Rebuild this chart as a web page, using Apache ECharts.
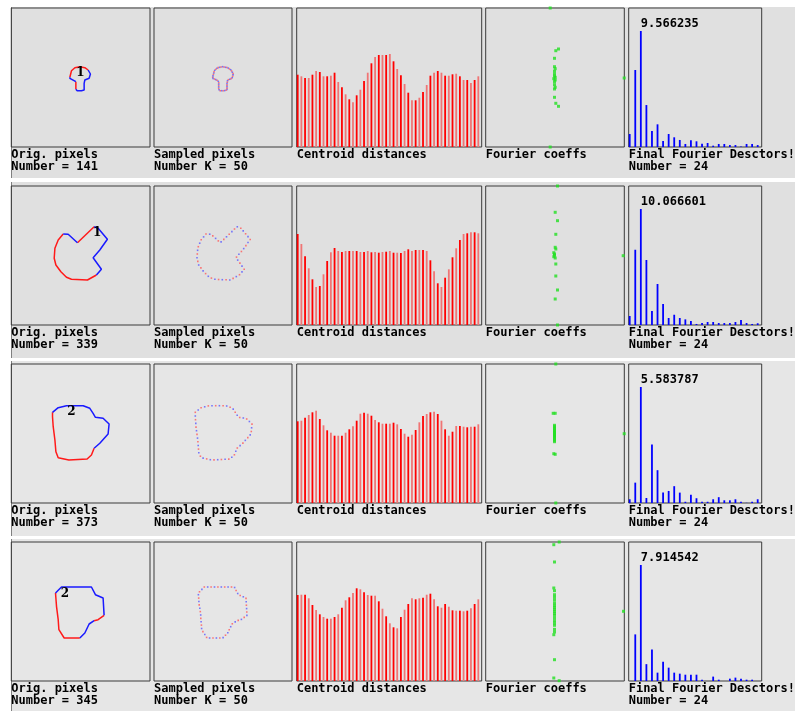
<!DOCTYPE html>
<html><head><meta charset="utf-8">
<script src="https://cdn.jsdelivr.net/npm/echarts/dist/echarts.min.js"></script>
<style>
html,body{margin:0;padding:0;background:#fff;}
#wrap{position:relative;width:795px;height:711px;overflow:hidden;}
.band{position:absolute;left:11px;width:784px;border-left:1px solid #808080;box-sizing:border-box;}
#c{position:absolute;left:0;top:0;width:795px;height:711px;}
</style>
</head><body><div id="wrap">
<div class="band" style="top:7px;height:171px;background:#e0e0e0"></div>
<div class="band" style="top:182px;height:176px;background:#e0e0e0"></div>
<div class="band" style="top:361px;height:175px;background:#e6e6e6"></div>
<div class="band" style="top:539px;height:172px;background:#e6e6e6"></div>
<div id="c"></div></div>
<script>
// ---------------- DATA ----------------
const origCount = [141, 339, 373, 345];
const sampledK = [50, 50, 50, 50];
const finalCount = [24, 24, 24, 24];
const shapeLabel = ['1', '1', '2', '2'];
const shapeLabelXY = [[69.3, 64.7], [86, 46.7], [60.3, 47.7], [53.7, 51.7]];

// contour pixel paths (panel pixel coordinates, y downward)
const contourRed1 = [[[58.7,69.3],[60.3,62.7],[63.7,59.7],[68.7,58.7],[73.7,59.7],[77,62]],[[64.7,81.3],[64.7,73.7]]];
const contourBlue1 = [[[77,62],[79.3,66],[78,70.3],[73.7,72],[73,75.3],[73,82],[70.3,82.7],[66,82.7],[64.7,81.3]],[[64.7,73.7],[62.7,72],[58.7,70.3],[58.7,69.3]]];
const contourRed2 = [[[66.3,56.7],[83,40.7]],[[85.3,89],[76.3,94],[60.3,93.3],[55.3,91.3],[49.7,85.7],[44.7,79],[43,72.3],[43.7,62.3],[47,54],[52,48]]];
const contourBlue2 = [[[52,48],[57,48.3],[66.3,56.7]],[[83,40.7],[87,42.3],[96.3,53.3],[88.7,64],[82,71.7],[90.3,83.3],[85.3,89]]];
const contourRed3 = [[[83,84.3],[80.3,91],[76,95],[57.7,96],[47,93.7],[44.7,87.7],[43.7,76],[42,62.7],[41.3,52.7],[41.3,48.3]]];
const contourBlue3 = [[[41.3,48.3],[47,43.7],[55.3,41.7],[72,41.7],[78.7,44.3],[82,49.3],[84.3,53.3],[92,54.3],[98,60],[97,70],[88.7,79.3],[83,84.3]]];
const contourRed4 = [[[93,73.3],[87,77.7],[83,78.7]],[[68.7,96],[53,96],[47.7,87.7],[47,77.7],[45.3,64.3],[44.3,51]]];
const contourBlue4 = [[[44.3,51],[50.3,45],[80.3,45],[84.3,52.7],[92,56],[93,73.3]],[[83,78.7],[78,82],[73.7,91],[68.7,96]]];

// sampled pixels (K = 50)
const sampled1 = [[58.7,69.3],[59.0,67.9],[59.4,66.4],[59.8,65.0],[60.1,63.6],[60.8,62.3],[61.9,61.3],[63.0,60.3],[64.2,59.6],[65.7,59.3],[67.1,59.0],[68.6,58.7],[70.0,59.0],[71.5,59.3],[72.9,59.5],[74.3,60.1],[75.5,61.0],[76.7,61.8],[77.6,63.0],[78.3,64.3],[79.1,65.6],[79.0,66.9],[78.6,68.4],[78.2,69.8],[77.1,70.6],[75.8,71.2],[74.4,71.7],[73.5,72.7],[73.3,74.2],[73,75.6],[73,77.1],[73,78.6],[73,80.1],[73,81.5],[72.0,82.3],[70.6,82.6],[69.1,82.7],[67.6,82.7],[66.2,82.7],[65.1,81.8],[64.7,80.4],[64.7,78.9],[64.7,77.4],[64.7,76.0],[64.7,74.5],[64.2,73.2],[63.0,72.3],[61.7,71.6],[60.4,71.0],[59.0,70.4]];
const sampled2 = [[52,48],[55.7,48.2],[58.8,49.9],[61.6,52.4],[64.3,54.9],[67.1,55.9],[69.8,53.4],[72.5,50.8],[75.2,48.2],[77.9,45.6],[80.5,43.0],[83.3,40.8],[86.8,42.2],[89.2,44.9],[91.6,47.8],[94.0,50.6],[96.2,53.5],[94.0,56.5],[91.9,59.6],[89.7,62.6],[87.4,65.5],[84.9,68.3],[82.5,71.1],[83.7,74.1],[85.9,77.1],[88.0,80.1],[90.2,83.2],[88.0,85.9],[85.5,88.7],[82.3,90.6],[79.1,92.4],[75.8,94.0],[72.1,93.8],[68.3,93.7],[64.6,93.5],[60.9,93.3],[57.4,92.1],[54.3,90.3],[51.6,87.6],[49.1,84.9],[46.9,81.9],[44.7,79.0],[43.8,75.4],[43.0,71.7],[43.3,68.0],[43.6,64.3],[44.3,60.7],[45.7,57.2],[47.2,53.8],[49.6,50.9]];
const sampled3 = [[41.3,48.3],[44.2,46.0],[47.1,43.7],[50.7,42.8],[54.3,41.9],[58.0,41.7],[61.7,41.7],[65.4,41.7],[69.1,41.7],[72.7,42.0],[76.1,43.3],[79.2,45.1],[81.2,48.2],[83.2,51.3],[85.7,53.5],[89.3,54.0],[92.7,55.0],[95.4,57.5],[98.0,60.1],[97.6,63.8],[97.3,67.5],[96.2,70.9],[93.8,73.6],[91.3,76.4],[88.9,79.1],[86.1,81.6],[83.3,84.0],[81.8,87.3],[80.4,90.8],[77.8,93.3],[74.8,95.1],[71.1,95.3],[67.4,95.5],[63.7,95.7],[60.0,95.9],[56.3,95.7],[52.7,94.9],[49.1,94.1],[46.4,92.2],[44.8,88.8],[44.5,85.1],[44.2,81.5],[43.9,77.8],[43.5,74.1],[43.0,70.4],[42.5,66.7],[42.0,63.1],[41.8,59.4],[41.5,55.7],[41.3,52.0]];
const sampled4 = [[50.3,45],[53.7,45],[57.1,45],[60.5,45],[63.9,45],[67.3,45],[70.7,45],[74.1,45],[77.5,45],[80.6,45.5],[82.1,48.5],[83.7,51.5],[86.2,53.5],[89.3,54.8],[92.0,56.4],[92.2,59.8],[92.4,63.2],[92.6,66.6],[92.8,70.0],[92.9,73.4],[90.2,75.4],[87.4,77.4],[84.2,78.4],[81.2,79.9],[78.3,81.8],[76.7,84.7],[75.2,87.8],[73.8,90.8],[71.5,93.2],[69.1,95.6],[65.8,96],[62.4,96],[59.0,96],[55.6,96],[52.6,95.4],[50.8,92.5],[48.9,89.6],[47.6,86.5],[47.4,83.1],[47.1,79.8],[46.8,76.4],[46.7,73.0],[46.3,69.6],[45.8,66.3],[45.2,62.9],[44.9,59.5],[44.7,56.1],[44.4,52.7],[45.5,49.8],[47.9,47.4]];

// centroid distances (50 samples)
const centroid1 = [72.3,70.7,69,69,72.3,76,75,70.7,70.7,71.3,74.3,65,59.7,52.7,47.7,44.7,51.7,57.3,66,74.3,83.7,90,92,92,92,93,85.7,78,71.7,63,54.3,46.7,46.7,49.3,55,62,71.3,74.3,76,74.3,71.3,71.3,72.7,73.3,70.7,67,67,64,67,70.7];
const centroid2 = [91,81,68.7,56.7,45.7,38,39,50.7,64,72.7,77,74,73,74,74,74,74,73,73,74,72.7,73,72.3,73,73.3,74,72.3,72.3,72,74,75.7,74,75,75,75,74,64.7,53.7,41.7,38,47.3,55.7,67.7,76.7,85,91,91.7,92.7,92.7,91.7];
const centroid3 = [81.7,82.3,85.3,88,90.7,92.3,84,77.7,72.7,70.3,67.3,67.3,67.3,70.3,73.7,76.7,82.3,89.3,90.3,89.3,87.3,83,80.7,79.3,79.3,79.3,80.3,78.7,74,69.3,66.3,68.3,73,80.7,87,89,90.7,91.3,89,82.3,73.7,67.3,71.3,77,77,76.3,75.7,76.3,76.3,78.7];
const centroid4 = [86,86.3,86.3,82.7,76,71,66.7,64,62.3,62.3,64,66.7,73.3,80.7,83.7,88,92.7,91.7,88.7,86,85.3,85.3,79.7,72.3,64.7,57.7,53.7,52.7,64,71.3,77,82.7,81.7,82.7,83.3,86.3,87.3,81.7,74.7,73.3,77,74.3,70.7,70.3,70.3,69.7,70.3,72.7,77,81.7];

// Fourier coefficients (re, im)
const coeffs1 = [[-4.8,69.5],[-4.8,-69.5],[69.2,-0.5],[3.5,28.5],[0.8,26.8],[-0.5,19.2],[-0.5,10.8],[0.2,8.8],[-0.5,6.2],[-0.5,3.5],[-0.5,1.5],[0.2,0.2],[-1.2,-1.2],[0.2,-2.5],[-0.5,-4.2],[-0.5,-7.2],[0.2,-9.8],[-0.5,-11.5],[-0.5,-19.8],[0.8,-25.8],[3.5,-28.8]];
const coeffs2 = [[2.5,69.5],[2.5,-69.5],[68.2,-0.2],[0.2,43.2],[2.5,34.8],[0.8,21.2],[0.2,8.2],[0.8,6.5],[-1.2,2.8],[-0.5,1.5],[-0.5,0.2],[-1.2,-1.2],[0.2,-2.5],[0.8,-8.5],[0.8,-20.5],[2.5,-34.5],[0.2,-43.5]];
const coeffs3 = [[0.8,69.5],[0.8,-69.5],[69.2,-0.2],[-1.8,20.2],[0.2,20.2],[-0.5,8.2],[-0.5,6.8],[-0.5,5.5],[-0.5,4.2],[-0.5,3],[-0.5,2],[-0.5,1],[-0.5,0],[-0.5,-1],[-0.5,-2],[-0.5,-3],[-0.5,-4.2],[-0.5,-5.5],[-0.5,-6.8],[-0.5,-8.2],[-1.2,-20.2],[0.2,-20.8]];
const coeffs4 = [[-1.2,66.8],[4.2,69.5],[-1.2,-66.5],[4.2,-69.2],[68.5,0.2],[-0.5,49.5],[-1.2,23.5],[-0.5,20.8],[-0.5,16.8],[-0.5,14.2],[-0.5,11.5],[-0.5,8.5],[-0.5,6.2],[-0.5,4.2],[-0.5,2.2],[-0.5,0.2],[-0.5,-1.8],[-0.5,-3.8],[-0.5,-6.5],[-0.5,-9.2],[-0.5,-11.5],[-0.5,-13.8],[-0.5,-17.8],[-0.5,-20.5],[-1.2,-23.2],[-0.5,-48.2]];

// final Fourier descriptors (24)
const descriptors1 = [1.07,6.35,9.566235,3.46,1.32,1.87,0.49,1.07,0.80,0.58,0.25,0.55,0.47,0.27,0.33,0.11,0.25,0.25,0.16,0.16,0.04,0.25,0.25,0.16];
const descriptors2 = [0.78,6.53,10.066601,5.64,1.21,3.56,1.82,0.61,0.89,0.61,0.49,0.35,0.09,0.17,0.26,0.26,0.17,0.17,0.17,0.26,0.43,0.17,0.09,0.15];
const descriptors3 = [0.18,0.98,5.583787,0.24,2.81,1.58,0.50,0.58,0.81,0.50,0.06,0.40,0.23,0.06,0.06,0.18,0.28,0.13,0.13,0.18,0.06,0.01,0.06,0.18];
const descriptors4 = [0,3.18,7.914542,1.15,2.15,0.57,1.32,0.91,0.57,0.50,0.43,0.43,0.43,0.09,0,0.30,0.09,0,0.16,0.23,0.16,0.09,0.09,0];

// ---------------- BUILD ----------------
const contoursRed = [contourRed1, contourRed2, contourRed3, contourRed4];
const contoursBlue = [contourBlue1, contourBlue2, contourBlue3, contourBlue4];
const sampledAll = [sampled1, sampled2, sampled3, sampled4];
const centroidAll = [centroid1, centroid2, centroid3, centroid4];
const coeffsAll = [coeffs1, coeffs2, coeffs3, coeffs4];
const descAll = [descriptors1, descriptors2, descriptors3, descriptors4];

const rowTops = [8, 186, 364, 542];
const PH = 139;
const PX = [11.3, 154, 296.7, 485.7, 628.7];
const PW = [138.7, 138, 185, 138.6, 133];
const BORDER = '#3a3a3a';
const RED = '#ff1a1a', BLUE = '#1a1aff';
const FONT = 'bold 12px "DejaVu Sans Mono", monospace';

const grid = [], xAxis = [], yAxis = [], series = [], graphic = [];
const hid = {show: false};

function addGrid(r, p, xa, ya) {
  const idx = grid.length;
  grid.push({left: PX[p], top: rowTops[r], width: PW[p], height: PH, show: true,
    borderColor: BORDER, borderWidth: 1, backgroundColor: 'transparent', containLabel: false});
  xAxis.push(Object.assign({gridIndex: idx, type: 'value', axisLine: hid, axisTick: hid, axisLabel: hid, splitLine: hid}, xa));
  yAxis.push(Object.assign({gridIndex: idx, type: 'value', axisLine: hid, axisTick: hid, axisLabel: hid, splitLine: hid}, ya));
  return idx;
}
function txt(x, y, s) {
  graphic.push({type: 'text', left: x, top: y, silent: true, z: 10,
    style: {text: s, font: FONT, fill: '#000'}});
}

for (let r = 0; r < 4; r++) {
  const bottom = rowTops[r] + PH;
  // panel 1 : original contour
  let g = addGrid(r, 0, {min: 0, max: 139}, {min: 0, max: 139, inverse: true});
  contoursRed[r].forEach(path => series.push({type: 'line', xAxisIndex: g, yAxisIndex: g, data: path,
    symbol: 'none', lineStyle: {color: RED, width: 1.5}, animation: false, silent: true}));
  contoursBlue[r].forEach(path => series.push({type: 'line', xAxisIndex: g, yAxisIndex: g, data: path,
    symbol: 'none', lineStyle: {color: BLUE, width: 1.5}, animation: false, silent: true}));
  series.push({type: 'scatter', xAxisIndex: g, yAxisIndex: g, symbolSize: 0.01, itemStyle: {color: '#000'},
    data: [{name: shapeLabel[r], value: shapeLabelXY[r]}], animation: false, silent: true, z: 5,
    label: {show: true, position: 'inside', formatter: '{b}', color: '#000', textBorderWidth: 0, opacity: 1,
      fontFamily: '"DejaVu Serif", serif', fontWeight: 'bold', fontSize: 12}});
  txt(PX[0], bottom + 2, 'Orig. pixels');
  txt(PX[0], bottom + 14, 'Number = ' + origCount[r]);

  // panel 2 : sampled pixels
  g = addGrid(r, 1, {min: 0, max: 138}, {min: 0, max: 139, inverse: true});
  series.push({type: 'scatter', xAxisIndex: g, yAxisIndex: g, data: sampledAll[r], symbol: 'rect', symbolSize: 1.6,
    animation: false, silent: true,
    itemStyle: {color: p => p.dataIndex % 2 ? '#5a5aff' : '#ff5a5a'}});
  txt(PX[1], bottom + 2, 'Sampled pixels');
  txt(PX[1], bottom + 14, 'Number K = ' + sampledK[r]);

  // panel 3 : centroid distances
  g = addGrid(r, 2, {min: -0.27, max: 49.92}, {min: 0, max: 139});
  series.push({type: 'bar', xAxisIndex: g, yAxisIndex: g, barWidth: 1.8,
    data: centroidAll[r].map((v, i) => [i, v]), animation: false, silent: true,
    itemStyle: {color: p => p.dataIndex % 2 ? '#f07575' : '#ff0000'}});
  txt(PX[2], bottom + 2, 'Centroid distances');

  // panel 4 : Fourier coefficients
  g = addGrid(r, 3, {min: -69.3, max: 69.3}, {min: -69.5, max: 69.5});
  series.push({type: 'scatter', xAxisIndex: g, yAxisIndex: g, data: coeffsAll[r], symbol: 'rect', symbolSize: 3,
    clip: false, animation: false, silent: true, itemStyle: {color: '#22e022'}});
  txt(PX[3], bottom + 2, 'Fourier coeffs');

  // panel 5 : final Fourier descriptors
  const d = descAll[r];
  const mx = Math.max(...d);
  const mi = d.indexOf(mx);
  g = addGrid(r, 4, {min: -0.18, max: 23.72}, {min: 0, max: mx * PH / 116});
  series.push({type: 'bar', xAxisIndex: g, yAxisIndex: g, barWidth: 1.8, animation: false, silent: true,
    itemStyle: {color: '#0000ff'},
    data: d.map((v, i) => i === mi ? {value: [i, v], label: {show: true, position: 'top', align: 'left', distance: 1,
      formatter: p => p.value[1].toFixed(6), fontFamily: '"DejaVu Sans Mono", monospace', fontWeight: 'bold',
      fontSize: 12, color: '#000'}} : [i, v])});
  txt(PX[4], bottom + 2, 'Final Fourier Desctors!');
  txt(PX[4], bottom + 14, 'Number = ' + finalCount[r]);
}

const chart = echarts.init(document.getElementById('c'), null, {renderer: 'canvas'});
chart.setOption({backgroundColor: 'transparent', animation: false, grid, xAxis, yAxis, series, graphic});
</script>
</body></html>
